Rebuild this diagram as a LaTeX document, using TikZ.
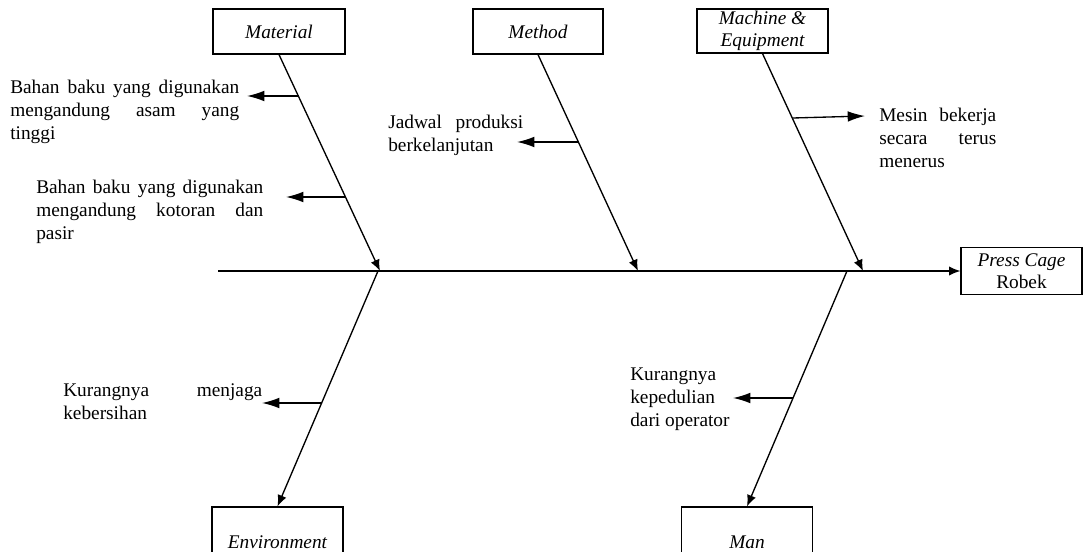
\documentclass[tikz,border=0pt]{standalone}
\usepackage{fontspec}
\setmainfont{Liberation Serif}
\usetikzlibrary{arrows.meta,calc}
\begin{document}
\begin{tikzpicture}[x=0.75pt,y=-0.75pt,
  catbox/.style={draw,line width=0.9pt,inner sep=0pt,align=center,
    font=\fontsize{14.5}{16.5}\selectfont\itshape},
  cause/.style={anchor=base west,inner sep=0pt,align=left,
    font=\fontsize{14.5}{17.6}\selectfont},
  bone/.style={line width=1pt,-{Latex[length=8.5pt,width=7pt]}},
  twig/.style={line width=1pt,-{Latex[length=13pt,width=8pt]}}
]
\clip (0,0) rectangle (1083,552);
\useasboundingbox (0,0) rectangle (1083,552);

% category boxes
\node[catbox,minimum width=99pt,minimum height=33.75pt] (mat) at (279,31.5) {Material};
\node[catbox,minimum width=97.5pt,minimum height=33.75pt] (met) at (538,31.5) {Method};
\node[catbox,minimum width=98.25pt,minimum height=33pt] (mac) at (762.5,31) {Machine \&\\Equipment};
\node[catbox,minimum width=98.25pt,minimum height=52.5pt] (env) at (277.5,542) {Environment};
\node[catbox,minimum width=98.25pt,minimum height=52.5pt] (man) at (747,542) {Man};
\node[catbox,minimum width=90.75pt,minimum height=35.25pt] (pc) at (1021.5,271) {Press Cage\\\upshape Robek};

% spine
\coordinate (s0) at (218,271);
\draw[bone] (s0) -- (pc.west);

% spine points
\coordinate (sMat) at (380,271);
\coordinate (sMet) at (638,271);
\coordinate (sMac) at (863,271);
\coordinate (sEnv) at (378,271);
\coordinate (sMan) at (847,271);

% main bones
\draw[bone] (mat.south) -- (sMat);
\draw[bone] (met.south) -- (sMet);
\draw[bone] (mac.south) -- (sMac);
\draw[bone] (sEnv) -- (env.north);
\draw[bone] (sMan) -- (man.north);

% cause texts (anchor = baseline of last line)
\node[cause] (t1) at (10,140) {\makebox[171.75pt][s]{Bahan baku yang digunakan}\\\makebox[171.75pt][s]{mengandung asam yang}\\tinggi};
\node[cause] (t2) at (36,240) {\makebox[170.25pt][s]{Bahan baku yang digunakan}\\\makebox[170.25pt][s]{mengandung kotoran dan}\\pasir};
\node[cause] (t3) at (388,152) {\makebox[101.25pt][s]{Jadwal produksi}\\berkelanjutan};
\node[cause] (t4) at (879,168) {\makebox[87.75pt][s]{Mesin bekerja}\\\makebox[87.75pt][s]{secara terus}\\menerus};
\node[cause] (t5) at (63,420) {\makebox[149.25pt][s]{Kurangnya menjaga}\\kebersihan};
\node[cause] (t6) at (630,427) {Kurangnya\\kepedulian\\dari operator};

% cause arrows
\coordinate (a1) at (298.5,96);  \coordinate (e1) at (247,96);
\coordinate (a2) at (345.5,197); \coordinate (e2) at (286,197);
\coordinate (a3) at (578.5,142); \coordinate (e3) at (517,142);
\coordinate (a4) at (793,118);   \coordinate (e4) at (865,116);
\coordinate (a5) at (322,403);   \coordinate (e5) at (262,403);
\coordinate (a6) at (793,398);   \coordinate (e6) at (733,398);
\draw[twig] (a1) -- (e1);
\draw[twig] (a2) -- (e2);
\draw[twig] (a3) -- (e3);
\draw[twig] (a4) -- (e4);
\draw[twig] (a5) -- (e5);
\draw[twig] (a6) -- (e6);
\end{tikzpicture}
\end{document}
